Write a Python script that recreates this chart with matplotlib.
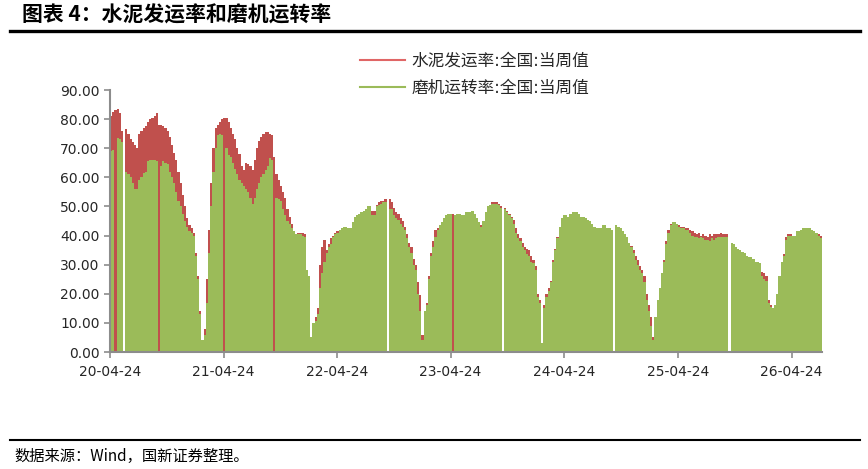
import matplotlib
matplotlib.use("Agg")
import matplotlib.pyplot as plt
import matplotlib.dates as mdates
from matplotlib.lines import Line2D
import numpy as np
import pandas as pd

plt.rcParams['font.family'] = ['DejaVu Sans', 'Noto Sans CJK SC']

start_date = "2020-04-24"

# 水泥发运率:全国:当周值 (%), weekly, one list per season (CNY to CNY)
ship_s1 = [81, 82.5, 83, 83.5, 82, 76, 75.5, 76.5, 75, 73,
           72, 71, 70, 75, 76, 77, 77.5, 79, 80, 80.5,
           81, 82, 78, 78, 77.5, 77, 76, 74, 71, 68.5,
           66, 62, 58, 54, 50, 46, 43.5, 42.5, 41, 34,
           26, 14, 4]
ship_s2 = [8, 25, 42, 58, 70, 77, 78, 79, 80, 80.5,
           80.5, 79, 77, 75, 73, 70, 68, 64, 62.5, 65,
           64.5, 64, 62.5, 66, 70, 72.5, 74, 75, 75.5, 75.5,
           75, 74.5, 67, 61, 59, 57, 55, 53, 49, 46.5,
           44, 41.5, 40.5, 41, 41, 41, 40.5, 28, 26, 5]
ship_s3 = [10, 12, 15, 30, 36, 38.5, 35, 37, 39, 40,
           41, 41.5, 42, 42.5, 43, 43, 42.5, 42.5, 44.5, 46.5,
           47, 47.5, 48, 48.5, 49, 50, 50, 48.5, 48.5, 50.5,
           51.5, 52, 52, 52.5, 53, 52.5, 51.5, 49.5, 48, 47.5,
           46, 45, 43, 40.5, 37.5, 36, 32, 30, 24, 19.5,
           6]
ship_s4 = [14, 17, 26, 34, 38, 42, 42.5, 43.5, 44.5, 46,
           47, 47.5, 47.5, 47.5, 47, 47.5, 47.5, 47, 47, 48,
           48, 48, 48.5, 47.5, 46, 44.5, 43.5, 45, 48, 50,
           50.5, 51.5, 51.5, 51.5, 51, 50, 49.5, 49.5, 48.5, 47.5,
           46.5, 45.5, 42.5, 40.5, 39, 37.5, 36, 35.5, 35, 33,
           31.5, 29.5, 20, 18, 3]
ship_s5 = [16, 20, 22, 24.5, 31.5, 35.5, 39.5, 43, 46, 47,
           47, 46.5, 47.5, 48, 48, 48, 47.5, 46.5, 46.5, 46,
           45.5, 45, 44, 43, 42.5, 42.5, 42.5, 43.5, 43.5, 42.5,
           42.5, 42, 42, 43.5, 43, 42.5, 41.5, 40.5, 39.5, 37.5,
           36.5, 35, 33, 31.5, 29.5, 28, 26, 20, 16, 12,
           5]
ship_s6 = [12, 18, 22, 27, 31.5, 38, 42, 44, 44.5, 44.5,
           44, 43.5, 43, 43, 42.5, 42.5, 42, 41.5, 41, 40.5,
           41, 40, 40.5, 40, 39.5, 40.5, 40, 40.5, 40.5, 40.5,
           41, 40.5, 40.5, 40.5, 38, 37.5, 37, 36, 35.5, 35,
           34.5, 34, 33, 32.5, 32.5, 32, 31, 31, 30.5, 27.5,
           27, 26, 18, 16, 15]
ship_s7 = [16, 20, 26, 31, 33.5, 39.5, 40.5, 40.5, 40, 40,
           41.5, 41.5, 42, 42.5, 42.5, 42.5, 42.5, 42, 41.5, 41,
           40.5, 40]

# 磨机运转率:全国:当周值 (%)
mill_s1 = [69, 69.5, 71, 73.5, 73, 72, 70, 62, 61, 60,
           58, 56, 56, 59, 60, 61.5, 62, 65.5, 66, 66,
           66, 65.5, 64, 64, 65.5, 65, 64.5, 62, 60, 58,
           55, 52, 50, 47.5, 45, 43, 41.5, 41, 40, 33,
           25, 13, 4]
mill_s2 = [6, 17, 34, 50, 62, 70, 74.5, 75, 74.5, 73,
           70, 67.5, 67, 65, 63, 61, 59, 58, 57, 56,
           55, 53, 51, 53, 56, 58, 60, 61, 62.5, 64,
           66.5, 66, 54, 53, 52.5, 52, 49, 47, 45, 44,
           42.5, 41.5, 40.5, 40.5, 40.5, 40, 39.5, 28, 26, 5]
mill_s3 = [10, 10.5, 13, 22, 27, 31, 34, 36, 37, 39.5,
           40.5, 41, 42, 42.5, 43, 43, 42.5, 42.5, 44.5, 46.5,
           47, 47.5, 48, 48.5, 49, 50, 50, 47, 47, 50,
           50.5, 51, 51.5, 51.5, 52, 49, 49, 47, 46, 45.5,
           44, 43, 42, 39, 36, 34, 30, 28, 20, 14,
           4]
mill_s4 = [14, 16, 25, 33, 36, 39.5, 42, 43.5, 44.5, 46,
           47, 47.5, 47.5, 47.5, 47, 47.5, 47.5, 47, 47, 48,
           48, 48, 48.5, 47.5, 46, 44.5, 43, 45, 48, 50,
           50.5, 51, 51, 51, 50.5, 49.5, 49, 49, 48, 47,
           46, 44, 41, 39, 38, 36, 35, 33.5, 33, 31,
           30.5, 28, 19, 17, 3]
mill_s5 = [15, 19, 21, 24, 31, 35, 39, 43, 46, 47,
           47, 46.5, 47.5, 48, 48, 48, 47.5, 46.5, 46.5, 46,
           45.5, 45, 44, 43, 42.5, 42.5, 42.5, 43.5, 43.5, 42.5,
           42.5, 42, 42, 43.5, 43, 42.5, 41.5, 40.5, 39.5, 37.5,
           36, 34, 31.5, 30, 28, 27, 24, 18, 14, 9,
           4]
mill_s6 = [12, 18, 22, 27, 31, 37, 41, 43.5, 44.5, 44.5,
           44, 43, 42.5, 42.5, 42, 42, 41, 40, 39.5, 39.5,
           39, 39.5, 39, 38.5, 38.5, 38, 39, 38.5, 39, 39.5,
           39.5, 39.5, 39.5, 39.5, 38, 37.5, 37, 36, 35.5, 35,
           34.5, 34, 33, 32.5, 32.5, 32, 31, 31, 30.5, 26,
           25, 24.5, 17, 15.5, 15]
mill_s7 = [16, 20, 26, 31, 33, 38.5, 40, 40, 40, 40,
           41.5, 41.5, 42, 42.5, 42.5, 42.5, 42.5, 42, 41.5, 41,
           40, 39]

# weeks with missing values (week index from start)
mill_missing = [2, 22, 52, 75, 157]
both_missing = [6, 127, 180, 231, 284]

RED = '#C0504D'
GREEN = '#9BBB59'

shipping = np.array(ship_s1 + ship_s2 + ship_s3 + ship_s4 + ship_s5 + ship_s6 + ship_s7, dtype=float)
mill = np.array(mill_s1 + mill_s2 + mill_s3 + mill_s4 + mill_s5 + mill_s6 + mill_s7, dtype=float)
mill[mill_missing] = np.nan
mill[both_missing] = np.nan
shipping[both_missing] = np.nan

dates = pd.date_range(start_date, periods=len(shipping), freq='7D')

fig = plt.figure(figsize=(8.68, 4.69), dpi=100)
ax = fig.add_axes([110 / 868, 1 - 352 / 469, 712 / 868, 262 / 469])

ax.bar(dates, shipping, width=7, align='edge', color=RED, linewidth=0)
ax.bar(dates, mill, width=7, align='edge', color=GREEN, linewidth=0)

ax.set_ylim(0, 90)
ax.set_yticks(np.arange(0, 91, 10))
ax.yaxis.set_major_formatter(matplotlib.ticker.FormatStrFormatter('%.2f'))
ax.set_xlim(dates[0], dates[-1] + pd.Timedelta(days=7))
ax.set_xticks(pd.date_range(start_date, '2026-04-24', freq=pd.DateOffset(years=1)))
ax.xaxis.set_major_formatter(mdates.DateFormatter('%y-%m-%d'))

for side in ['top', 'right']:
    ax.spines[side].set_visible(False)
for side in ['left', 'bottom']:
    ax.spines[side].set_color('#8c8c8c')
    ax.spines[side].set_linewidth(1.5)
ax.tick_params(direction='out', length=4, width=1.2, color='#8c8c8c',
               labelcolor='#262626', labelsize=10)
ax.tick_params(axis='x', pad=5)

handles = [Line2D([], [], color='#E06666', lw=1.5),
           Line2D([], [], color='#9BBB59', lw=1.5)]
fig.legend(handles, ['水泥发运率:全国:当周值', '磨机运转率:全国:当周值'],
           loc='upper left', bbox_to_anchor=(0.398, 0.921), frameon=False,
           fontsize=12, handlelength=2.7, handletextpad=0.35, labelspacing=0.5,
           labelcolor='#262626')

# header / footer
fig.text(22 / 868, 1 - 15 / 469, '图表 4：水泥发运率和磨机运转率', fontsize=15,
         fontweight='bold', va='center', family=['Noto Sans CJK SC'])
fig.add_artist(Line2D([10 / 868, 860 / 868], [1 - 31 / 469] * 2, color='black', lw=2.4))
fig.add_artist(Line2D([10 / 868, 860 / 868], [1 - 440 / 469] * 2, color='black', lw=1.5))
fig.text(14 / 868, 1 - 456 / 469, '数据来源：Wind，国新证券整理。', fontsize=11,
         va='center', family=['Noto Sans CJK SC', 'DejaVu Sans'])

fig.savefig('out.png', dpi=100)
